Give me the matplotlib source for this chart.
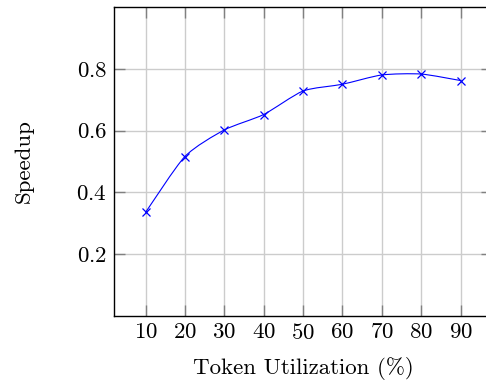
import matplotlib.pyplot as plt
from matplotlib.path import Path
from matplotlib.patches import PathPatch
import numpy as np

plt.rcParams['font.family'] = 'cmr10'
plt.rcParams['axes.formatter.use_mathtext'] = True
plt.rcParams['mathtext.fontset'] = 'cm'

utilization = [10, 20, 30, 40, 50, 60, 70, 80, 90]
speedup = [0.335, 0.516, 0.602, 0.652, 0.728, 0.750, 0.780, 0.783, 0.762]
yticks = [0.2, 0.4, 0.6, 0.8]


def smooth_path(xs, ys, tension=0.35):
    # cubic bezier through the points, like pgfplots "smooth"
    pts = np.column_stack([xs, ys]).astype(float)
    verts = [pts[0]]
    codes = [Path.MOVETO]
    n = len(pts)
    for i in range(n - 1):
        p0 = pts[max(i - 1, 0)]
        p1 = pts[i]
        p2 = pts[i + 1]
        p3 = pts[min(i + 2, n - 1)]
        c1 = p1 + (p2 - p0) * tension / 3
        c2 = p2 - (p3 - p1) * tension / 3
        verts += [c1, c2, p2]
        codes += [Path.CURVE4] * 3
    return Path(verts, codes)


fig = plt.figure(figsize=(4.86, 3.85), dpi=100)
ax = fig.add_axes([114 / 486, 69 / 385, 378 / 486, 309 / 385])

ax.add_patch(PathPatch(smooth_path(utilization, speedup), fill=False,
                       edgecolor='blue', lw=0.8))
ax.plot(utilization, speedup, ls='none', marker='x', color='blue',
        ms=5.5, mew=0.9)

ax.set_xlim(2, 98)
ax.set_ylim(0, 1.0)
ax.set_xticks(utilization)
ax.set_yticks(yticks)
ax.grid(True, color='#cccccc', lw=1.0)
ax.set_axisbelow(True)
ax.tick_params(direction='in', top=True, right=True, length=8,
               color='#808080', width=1.0, labelsize=16.5)
ax.tick_params(axis='x', pad=5)
ax.tick_params(axis='y', pad=5)
for s in ax.spines.values():
    s.set_linewidth(1.0)

ax.set_xlabel('Token Utilization (%)', fontsize=16.5, labelpad=10)
ax.set_ylabel('Speedup', fontsize=16.5, labelpad=31)

fig.savefig('out.png', dpi=100)
